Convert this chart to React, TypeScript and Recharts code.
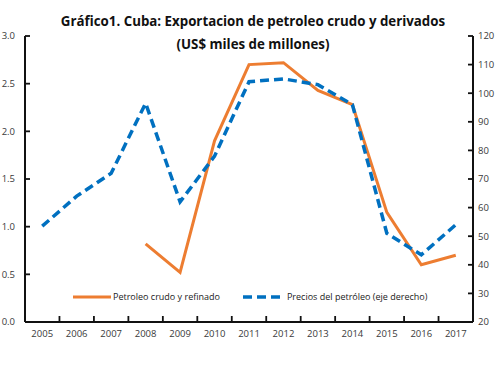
import React from 'react';
import { LineChart, Line, XAxis, YAxis } from 'recharts';

const years = ['2005', '2006', '2007', '2008', '2009', '2010', '2011', '2012', '2013', '2014', '2015', '2016', '2017'];
// exportaciones de petroleo crudo y refinado (US$ miles de millones)
const exportaciones = [null, null, null, 0.82, 0.52, 1.9, 2.7, 2.72, 2.43, 2.28, 1.15, 0.6, 0.7];
// precios del petroleo (eje derecho)
const precios = [53.5, 64, 72, 96.5, 62, 78, 104, 105, 103, 96, 51, 43.5, 54];

const leftTicks = [0, 0.5, 1, 1.5, 2, 2.5, 3];
const rightTicks = [20, 30, 40, 50, 60, 70, 80, 90, 100, 110, 120];

const data = years.map((year, i) => ({
  year,
  exportaciones: exportaciones[i],
  precios: precios[i],
}));

const ORANGE = '#ED7D31';
const BLUE = '#0070C0';
const FONT = '"Open Sans", "Noto Sans", sans-serif';
const TICK_COLOR = '#3a3a3a';
const TICK_LEN = 5;

// year label plus a small inward tick at the left edge of the category band
const YearTick = (props: any) => {
  const { x, y, payload } = props;
  const half = 448 / years.length / 2;
  return (
    <g>
      <line x1={x - half} y1={y} x2={x - half} y2={y - TICK_LEN - 1} stroke="#111" strokeWidth={1.8} />
      <text x={x} y={y + 8} dy="0.71em" textAnchor="middle" fontSize={9.5} fill={TICK_COLOR} fontFamily={FONT}>
        {payload.value}
      </text>
    </g>
  );
};

const LeftTick = (props: any) => {
  const { x, y, payload } = props;
  return (
    <g>
      <path d={`M${x},${y} h${TICK_LEN}`} stroke="#111" strokeWidth={1.8} fill="none" />
      <text x={x - 10} y={y} dy="0.35em" textAnchor="end" fontSize={9.5} fill={TICK_COLOR} fontFamily={FONT}>
        {Number(payload.value).toFixed(1)}
      </text>
    </g>
  );
};

const RightTick = (props: any) => {
  const { x, y, payload } = props;
  return (
    <g>
      <path d={`M${x},${y} h${-TICK_LEN}`} stroke="#111" strokeWidth={1.8} fill="none" />
      <text x={x + 5} y={y} dy="0.35em" textAnchor="start" fontSize={9.5} fill={TICK_COLOR} fontFamily={FONT}>
        {payload.value}
      </text>
    </g>
  );
};

function ChartLegend() {
  return (
    <div
      style={{
        position: 'absolute',
        left: 73,
        top: 290,
        display: 'flex',
        alignItems: 'center',
        fontFamily: FONT,
        fontSize: 9,
        color: '#222',
        zIndex: 2,
      }}
    >
      <svg width={38} height={6} style={{ marginRight: 2 }}>
        <line x1={0} y1={3} x2={38} y2={3} stroke={ORANGE} strokeWidth={3} />
      </svg>
      <span style={{ marginRight: 23 }}>Petroleo crudo y refinado</span>
      <svg width={42} height={6} style={{ marginRight: 2 }}>
        <line x1={0} y1={3} x2={42} y2={3} stroke={BLUE} strokeWidth={3.5} strokeDasharray="9 5" />
      </svg>
      <span>Precios del petróleo (eje derecho)</span>
    </div>
  );
}

export default function App() {
  return (
    <div style={{ position: 'absolute', left: 0, top: 0, width: 500, height: 366, background: '#fff' }}>
      <div
        style={{
          position: 'absolute',
          left: 0,
          top: 10,
          width: 506,
          textAlign: 'center',
          fontFamily: FONT,
          fontWeight: 700,
          fontSize: 13.3,
          lineHeight: '23px',
          color: '#111',
          zIndex: 2,
        }}
      >
        Gráfico1. Cuba: Exportacion de petroleo crudo y derivados
        <br />
        (US$ miles de millones)
      </div>
      <ChartLegend />
      <LineChart width={500} height={366} data={data} margin={{ top: 36, right: 0, bottom: 20, left: 0 }}>
        <XAxis
          dataKey="year"
          scale="band"
          axisLine={{ stroke: '#111', strokeWidth: 2 }}
          tickLine={false}
          tickSize={0}
          tickMargin={0}
          interval={0}
          height={24}
          tick={<YearTick />}
        />
        <YAxis
          yAxisId="left"
          domain={[0, 3]}
          ticks={leftTicks}
          width={25}
          axisLine={{ stroke: '#111', strokeWidth: 2 }}
          tickLine={false}
          tickSize={0}
          tickMargin={0}
          tick={<LeftTick />}
        />
        <YAxis
          yAxisId="right"
          orientation="right"
          domain={[20, 120]}
          ticks={rightTicks}
          width={27}
          axisLine={{ stroke: '#111', strokeWidth: 2 }}
          tickLine={false}
          tickSize={0}
          tickMargin={0}
          tick={<RightTick />}
        />
        <Line
          yAxisId="left"
          type="linear"
          dataKey="exportaciones"
          stroke={ORANGE}
          strokeWidth={3}
          dot={false}
          activeDot={false}
          isAnimationActive={false}
        />
        <Line
          yAxisId="right"
          type="linear"
          dataKey="precios"
          stroke={BLUE}
          strokeWidth={3.5}
          strokeDasharray="9 5"
          dot={false}
          activeDot={false}
          isAnimationActive={false}
        />
      </LineChart>
    </div>
  );
}
